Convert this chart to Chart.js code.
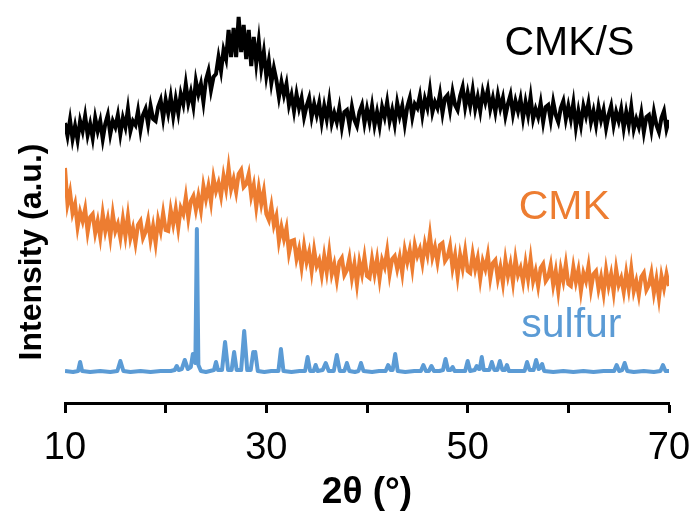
<!DOCTYPE html>
<html>
<head>
<meta charset="utf-8">
<script src="https://cdn.jsdelivr.net/npm/chart.js@4/dist/chart.umd.min.js"></script>
<style>
  html, body { margin: 0; padding: 0; background: #fff; }
</style>
</head>
<body>
<canvas id="xrd" width="694" height="512"></canvas>
<script>
// 2θ grid of the two carbon scans (one reading every 0.25°)
const angles = Array.from({ length: 241 }, (_, i) => 10 + i * 0.25)

// CMK/S scan (arbitrary units, already offset)
const cmkS = [
  280, 267, 283, 264, 277, 263, 282, 272, 287, 268, 279, 265, 285, 272, 282, 264, 279, 288, 269, 282,
  276, 288, 269, 285, 276, 294, 272, 282, 278, 292, 273, 288, 294, 279, 297, 284, 282, 296, 303, 285,
  303, 290, 306, 287, 304, 290, 309, 299, 319, 300, 311, 297, 322, 309, 319, 301, 323, 332, 313, 326,
  329, 346, 332, 353, 344, 373, 346, 375, 346, 386, 351, 378, 344, 373, 337, 366, 340, 362, 335, 351,
  327, 342, 320, 335, 323, 306, 321, 308, 319, 298, 308, 292, 309, 295, 305, 286, 297, 305, 286, 299,
  288, 300, 281, 297, 284, 302, 280, 290, 281, 295, 276, 291, 293, 278, 296, 283, 277, 291, 298, 280,
  294, 281, 297, 278, 291, 277, 296, 286, 301, 282, 293, 279, 300, 287, 297, 279, 296, 305, 286, 299,
  295, 307, 288, 304, 295, 313, 291, 301, 295, 309, 290, 305, 308, 293, 311, 298, 293, 307, 316, 296,
  310, 297, 313, 294, 306, 292, 311, 301, 313, 294, 305, 291, 308, 295, 305, 287, 299, 308, 289, 302,
  292, 304, 285, 301, 288, 306, 284, 294, 286, 300, 281, 296, 298, 283, 301, 288, 281, 295, 302, 284,
  297, 284, 300, 276, 292, 278, 297, 287, 300, 281, 292, 278, 296, 283, 293, 275, 288, 297, 278, 291,
  282, 294, 275, 291, 278, 296, 274, 284, 276, 290, 271, 286, 288, 273, 291, 278, 271, 285, 292, 274,
  283
]

// CMK scan
const cmk = [
  235, 199, 211, 190, 199, 176, 191, 182, 194, 171, 186, 189, 170, 182, 166, 189, 172, 184, 166, 189,
  172, 179, 165, 184, 167, 187, 165, 175, 160, 178, 182, 165, 171, 183, 163, 177, 160, 183, 172, 190,
  173, 172, 193, 179, 194, 175, 195, 189, 206, 185, 202, 207, 193, 207, 193, 217, 204, 217, 201, 225,
  212, 220, 207, 227, 214, 235, 214, 224, 211, 229, 233, 216, 219, 229, 207, 218, 196, 215, 199, 212,
  189, 183, 197, 178, 187, 162, 176, 164, 175, 150, 162, 163, 144, 154, 136, 157, 141, 151, 132, 153,
  137, 143, 128, 147, 131, 151, 129, 139, 123, 141, 145, 128, 133, 145, 125, 139, 119, 141, 129, 146,
  127, 125, 144, 129, 144, 124, 143, 136, 152, 129, 144, 147, 134, 146, 130, 153, 141, 153, 135, 158,
  147, 154, 140, 159, 148, 168, 146, 156, 141, 158, 160, 142, 146, 157, 135, 148, 127, 148, 135, 152,
  132, 130, 149, 134, 145, 124, 142, 134, 148, 125, 140, 143, 124, 136, 120, 143, 127, 139, 121, 144,
  128, 135, 121, 140, 124, 144, 122, 132, 117, 135, 139, 122, 126, 138, 118, 132, 112, 134, 122, 139,
  119, 117, 136, 121, 133, 112, 130, 122, 137, 114, 129, 132, 114, 126, 110, 133, 117, 129, 111, 134,
  118, 125, 111, 130, 114, 134, 112, 122, 108, 126, 130, 113, 118, 130, 110, 124, 105, 127, 115, 129,
  117
]

// sulfur scan: baseline readings plus the sharp peaks
const sulfurX = [
  10, 10.8, 11.3, 11.5, 11.7, 12.5, 13.5, 14.5, 15.2, 15.5, 15.8, 16.5, 17.5, 18.5, 19.5, 20.5,
  20.9, 21.1, 21.3, 21.6, 21.9, 22.2, 22.5, 22.7, 22.95, 23.1, 23.25, 23.5, 24.0, 24.8, 25.0, 25.2,
  25.6, 25.9, 26.2, 26.55, 26.8, 27.05, 27.5, 27.8, 28.1, 28.45, 28.7, 28.8, 28.9, 29.15, 29.8, 30.5,
  31.2, 31.45, 31.7, 32.5, 33.3, 33.85, 34.1, 34.35, 34.7, 34.9, 35.1, 35.6, 35.9, 36.2, 36.7, 37.0,
  37.3, 37.75, 38.0, 38.25, 38.8, 39.15, 39.4, 39.65, 40.5, 41.2, 41.85, 42.1, 42.35, 42.55, 42.8, 43.05,
  43.8, 44.7, 45.35, 45.6, 45.85, 46.15, 46.4, 46.65, 47.2, 47.55, 47.8, 48.05, 48.3, 48.5, 48.7, 49.2,
  49.75, 50.0, 50.25, 50.7, 50.9, 51.1, 51.2, 51.4, 51.6, 52.15, 52.4, 52.65, 52.95, 53.2, 53.45, 53.7,
  53.9, 54.1, 54.8, 55.65, 55.9, 56.15, 56.55, 56.8, 57.05, 57.2, 57.4, 57.6, 58.5, 59.5, 60.5, 61.5,
  62.5, 63.5, 64.55, 64.8, 65.05, 65.35, 65.6, 65.85, 66.5, 67.5, 68.5, 69.15, 69.4, 69.65, 70
]
const sulfurY = [
  32, 31, 32, 41, 32, 31, 32, 31, 32, 42, 32, 31, 32, 31, 32, 32,
  33, 37, 33, 34, 43, 34, 36, 49, 40, 174, 38, 32, 31, 33, 41, 33,
  33, 61, 33, 33, 51, 33, 33, 72, 33, 33, 51, 48, 51, 32, 31, 32,
  32, 54, 32, 31, 32, 32, 46, 32, 32, 38, 32, 33, 40, 32, 32, 48,
  32, 32, 40, 32, 31, 32, 40, 32, 31, 32, 32, 38, 33, 33, 49, 32,
  31, 32, 32, 38, 32, 32, 37, 32, 32, 33, 44, 33, 33, 36, 32, 32,
  32, 42, 32, 33, 37, 34, 34, 46, 33, 33, 41, 33, 33, 42, 33, 33,
  38, 32, 32, 32, 41, 33, 33, 43, 34, 35, 39, 32, 31, 32, 31, 32,
  31, 32, 32, 38, 32, 33, 40, 32, 31, 32, 31, 32, 38, 32, 32
]

const xTicks = [10, 30, 50, 70]
const seriesNames = ['CMK/S', 'CMK', 'sulfur']
const seriesColors = ['#000000', '#ED7D31', '#5B9BD5']

const FONT = "'Liberation Sans', Arial, sans-serif"

// series names and the rotated y title are painted straight on the canvas
const labelsPlugin = {
  id: 'labels',
  afterDraw(chart) {
    const { ctx, scales: { x, y } } = chart
    const spots = [[60.1, 359], [59.6, 195], [60.3, 77]]
    ctx.save()
    ctx.textAlign = 'center'
    ctx.textBaseline = 'middle'
    ctx.font = '41px ' + FONT
    seriesNames.forEach((name, i) => {
      ctx.fillStyle = seriesColors[i]
      ctx.fillText(name, x.getPixelForValue(spots[i][0]), y.getPixelForValue(spots[i][1]))
    })
    ctx.translate(32, 252)
    ctx.rotate(-Math.PI / 2)
    ctx.fillStyle = '#000'
    ctx.font = 'bold 32px ' + FONT
    ctx.fillText('Intensity (a.u.)', 0, 0)
    ctx.restore()
  }
}

const toPoints = (xs, ys) => xs.map((v, i) => ({ x: v, y: ys[i] }))

new Chart(document.getElementById('xrd'), {
  type: 'line',
  data: {
    datasets: [
      { label: 'sulfur', data: toPoints(sulfurX, sulfurY), borderColor: seriesColors[2], borderWidth: 4, borderJoinStyle: 'round' },
      { label: 'CMK', data: toPoints(angles, cmk), borderColor: seriesColors[1], borderWidth: 4, borderJoinStyle: 'miter' },
      { label: 'CMK/S', data: toPoints(angles, cmkS), borderColor: seriesColors[0], borderWidth: 4, borderJoinStyle: 'miter' }
    ]
  },
  options: {
    responsive: false,
    animation: false,
    devicePixelRatio: 1,
    elements: { point: { radius: 0 }, line: { tension: 0 } },
    layout: { padding: { left: 65, right: 25, top: 10, bottom: 0 } },
    plugins: { legend: { display: false }, tooltip: { enabled: false } },
    scales: {
      x: {
        type: 'linear',
        min: 10,
        max: 70,
        // fixed block under the plot; the end labels may hang into the side margins
        afterFit: (s) => {
          s.height = 109
          s.paddingLeft = 0
          s.paddingRight = 0
        },
        border: { display: true, color: '#000', width: 3 },
        grid: { drawOnChartArea: false, drawTicks: true, tickLength: 10, tickColor: '#000', tickWidth: 3 },
        ticks: {
          stepSize: 10,
          padding: 13,
          color: '#000',
          font: { family: FONT, size: 38 },
          callback: (v) => xTicks.includes(v) ? String(v) : ''
        },
        title: {
          display: true,
          text: '2θ (°)',
          color: '#000',
          font: { family: FONT, size: 37, weight: 'bold', lineHeight: 1.05 },
          padding: { top: 0, bottom: 0 }
        }
      },
      y: { display: false, min: 0, max: 393 }
    }
  },
  plugins: [labelsPlugin]
})
</script>
</body>
</html>
